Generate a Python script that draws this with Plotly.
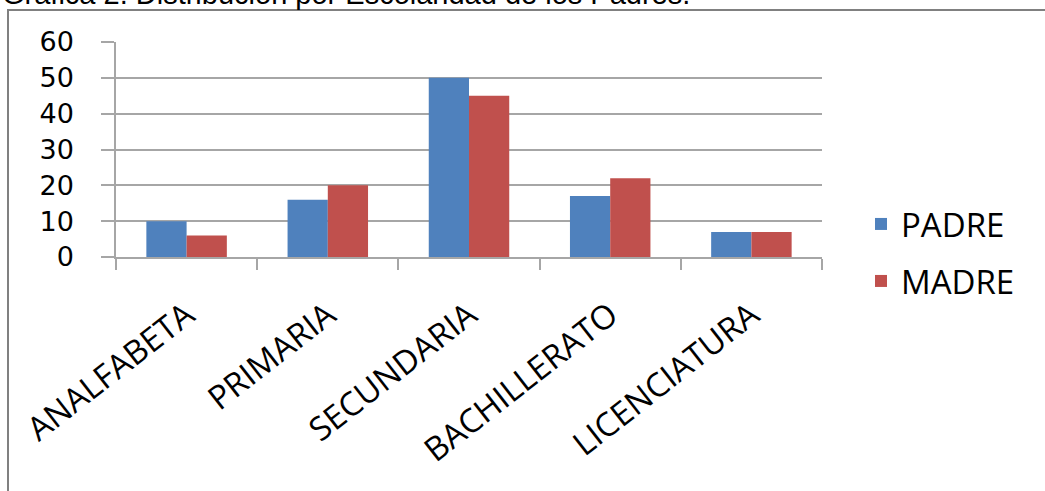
import plotly.graph_objects as go

categorias = ["ANALFABETA", "PRIMARIA", "SECUNDARIA", "BACHILLERATO", "LICENCIATURA"]
padre = [10, 16, 50, 17, 7]
madre = [6, 20, 45, 22, 7]
titulo = "Gráfica 2. Distribución por Escolaridad de los Padres."

W, H = 1045, 491
L, R, T, B = 116, 822, 42, 257
pw, ph = R - L, B - T

def px(x):
    return (x - L) / pw

def py(y):
    return (B - y) / ph

fig = go.Figure()
fig.add_trace(go.Bar(name="PADRE", x=categorias, y=padre, marker_color="#4F81BD",
                     marker_line_width=0, legend="legend"))
fig.add_trace(go.Bar(name="MADRE", x=categorias, y=madre, marker_color="#C0504D",
                     marker_line_width=0, legend="legend2"))

legend_common = dict(font=dict(family="Open Sans", size=33, color="#000000"),
                     bgcolor="rgba(0,0,0,0)", xanchor="left", yanchor="middle",
                     itemwidth=30)

fig.update_layout(
    width=W, height=H,
    margin=dict(l=L, r=W - R, t=T, b=H - B, pad=0),
    paper_bgcolor="white", plot_bgcolor="white",
    barmode="group", bargap=0.43, bargroupgap=0,
    showlegend=True,
    legend=dict(x=px(861), y=py(224), **legend_common),
    legend2=dict(x=px(861), y=py(281), **legend_common),
    xaxis=dict(
        showline=True, linecolor="#A6A6A6", linewidth=1.5,
        ticks="outside", tickson="boundaries", ticklen=11, tickcolor="#A6A6A6", tickwidth=1.5,
        tickangle=-38, ticklabelstandoff=24,
        tickfont=dict(family="Open Sans", size=33, color="#000000"),
        showgrid=False,
    ),
    yaxis=dict(
        range=[0, 60], dtick=10, showgrid=True, gridcolor="#A6A6A6", gridwidth=1.5,
        showline=True, linecolor="#A6A6A6", linewidth=1.5,
        ticks="outside", ticklen=13, tickcolor="#A6A6A6", tickwidth=1.5,
        ticklabelstandoff=22,
        tickfont=dict(family="DejaVu Sans", size=27, color="#000000"),
        zeroline=False,
    ),
    shapes=[dict(type="rect", xref="paper", yref="paper",
                 x0=px(8), x1=px(1070), y0=py(540), y1=py(10),
                 line=dict(color="#808080", width=2), fillcolor="rgba(0,0,0,0)", layer="below")],
    annotations=[dict(text=titulo, xref="paper", yref="paper", x=px(0), y=py(12),
                      xanchor="left", yanchor="bottom", showarrow=False,
                      font=dict(family="Liberation Sans", size=29, color="#000000"))],
)

fig.write_html("out.html", config={"displayModeBar": False},
               post_script="document.body.style.margin='0px';")
